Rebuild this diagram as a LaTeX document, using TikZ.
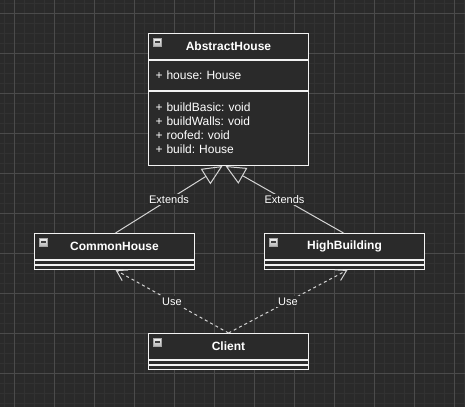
\documentclass[tikz,border=0pt]{standalone}
\usepackage{fontspec}
\setmainfont{Liberation Sans}
\usetikzlibrary{arrows.meta,calc}
\frenchspacing
\definecolor{bgdark}{HTML}{2A2A2A}
\definecolor{gridminor}{HTML}{323232}
\definecolor{gridmajor}{HTML}{4B4B4B}
\definecolor{umlline}{HTML}{F2F2F2}
\definecolor{linkline}{HTML}{D4D4D4}
\tikzset{
  classbox/.style={draw=umlline, fill=bgdark, line width=0.75pt, inner sep=0pt,
    minimum width=120pt, anchor=north west, text=white},
  classhead/.style={classbox, minimum height=19.5pt,
    font=\bfseries\fontsize{9}{10}\selectfont},
  classpart/.style={classbox, inner xsep=5.25pt, text width=109.5pt, align=left,
    font=\fontsize{9}{10.5}\selectfont},
  classgap/.style={classbox, minimum height=3pt},
  foldbtn/.style={draw=gray!70, top color=gray!10, bottom color=gray!55,
    minimum size=6pt, inner sep=0pt,
    path picture={\draw[black!75, line width=0.9pt]
      ([xshift=1.3pt]path picture bounding box.west) --
      ([xshift=-1.3pt]path picture bounding box.east);}},
  edgelabel/.style={fill=bgdark, text=white, inner sep=1pt,
    font=\fontsize{8.25}{9}\selectfont},
  extends/.style={draw=linkline, line width=0.75pt,
    -{Triangle[open, length=15pt, width=13.5pt]}},
  uses/.style={draw=linkline, line width=0.75pt, dash pattern=on 2.25pt off 2.25pt,
    -{Straight Barb[length=7.5pt, width=9pt]}}
}
\begin{document}
\begin{tikzpicture}[x=0.75pt, y=-0.75pt]
\useasboundingbox (0,0) rectangle (465,407);
\fill[bgdark] (0,0) rectangle (465,407);
% grid
\foreach \gx in {4,14,...,464}
    \draw[gridminor, line width=0.75pt] (\gx,0) -- (\gx,407);
\foreach \gy in {3,13,...,403}
    \draw[gridminor, line width=0.75pt] (0,\gy) -- (465,\gy);
\foreach \gx in {14,54,...,454}
    \draw[gridmajor, line width=0.75pt] (\gx,0) -- (\gx,407);
\foreach \gy in {13,53,...,413}
    \draw[gridmajor, line width=0.75pt] (0,\gy) -- (465,\gy);

% AbstractHouse
\node[classhead] (abshead) at (148,33) {AbstractHouse};
\node[classpart, minimum height=22.5pt] (absattr) at (abshead.south west) {+ house: House};
\node[classpart, minimum height=55.5pt] (absmeth) at (absattr.south west)
    {+ buildBasic: void\\+ buildWalls: void\\+ roofed: void\\+ build: House};
\node[foldbtn] (absbtn) at ($(abshead.north west)+(9.5,9)$) {};

% CommonHouse
\node[classhead] (commonhead) at (34,233) {CommonHouse};
\node[classgap] (commongap) at (commonhead.south west) {};
\node[classgap] (commonfoot) at (commongap.south west) {};
\node[foldbtn] (commonbtn) at ($(commonhead.north west)+(9.5,9)$) {};

% HighBuilding
\node[classhead] (highhead) at (264,233) {HighBuilding};
\node[classgap] (highgap) at (highhead.south west) {};
\node[classgap] (highfoot) at (highgap.south west) {};
\node[foldbtn] (highbtn) at ($(highhead.north west)+(9.5,9)$) {};

% Client
\node[classhead] (clienthead) at (148,333) {Client};
\node[classgap] (clientgap) at (clienthead.south west) {};
\node[classgap] (clientfoot) at (clientgap.south west) {};
\node[foldbtn] (clientbtn) at ($(clienthead.north west)+(9.5,9)$) {};

% relations
\draw[extends] ($(commonhead.north)+(1,0)$) -- node[edgelabel]{Extends} ($(absmeth.south)+(-6,0)$);
\draw[extends] ($(highhead.north)+(-1,0)$) -- node[edgelabel]{Extends} ($(absmeth.south)+(-3,0)$);
\draw[uses] (clienthead.north) -- node[edgelabel]{Use} ($(commonfoot.south)+(1,0)$);
\draw[uses] (clienthead.north) -- node[edgelabel]{Use} ($(highfoot.south)+(3,0)$);
\end{tikzpicture}
\end{document}
